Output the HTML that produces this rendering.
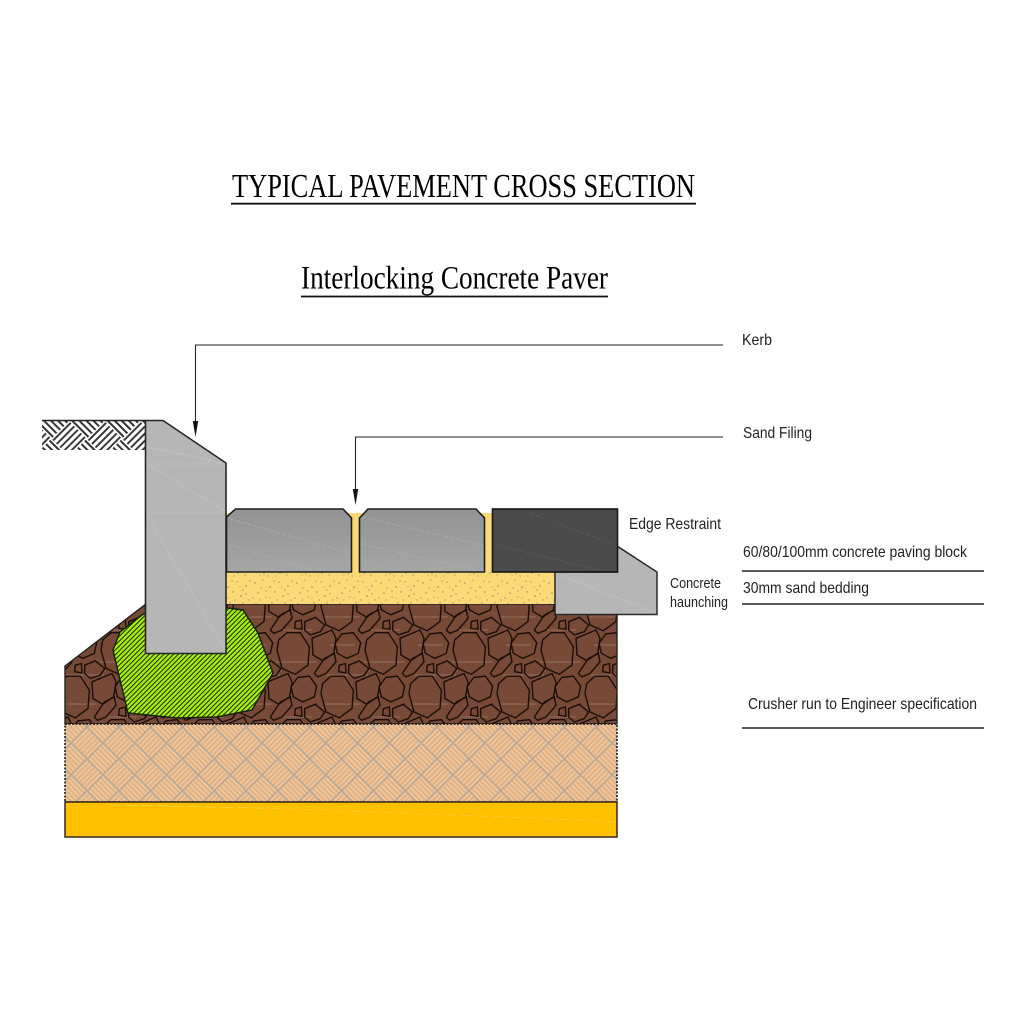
<!DOCTYPE html>
<html><head><meta charset="utf-8"><title>Typical Pavement Cross Section</title>
<style>html,body{margin:0;padding:0;background:#fff}svg{display:block;filter:blur(.35px)}
.s{font-family:"Liberation Serif",serif;fill:#000}.l{font-family:"Liberation Sans",sans-serif;font-size:16px;fill:#222}</style></head>
<body>
<svg width="1024" height="1024" viewBox="0 0 1024 1024" xmlns="http://www.w3.org/2000/svg">
<defs>
<linearGradient id="pv" x1="0" y1="0" x2="0" y2="1"><stop offset="0" stop-color="#939393"/><stop offset="1" stop-color="#a6a6a6"/></linearGradient>
<g id="st" fill="none" stroke="#1a0e08" stroke-width="4.200">
<polygon points="165,428 205,428 232,470 228,525 190,553 150,535 135,480 140,450"/>
<polygon points="65,432 100,428 122,458 115,490 80,505 52,490 45,460"/>
<polygon points="240,445 300,420 312,445 305,490 272,512 243,495"/>
<polygon points="115,420 145,375 175,360 180,385 150,420 125,430"/>
<polygon points="190,395 208,390 210,418 188,415"/>
<polygon points="218,395 250,382 278,405 265,425 235,435 218,420"/>
</g>
<pattern id="stones" patternUnits="userSpaceOnUse" x="320" y="605" width="88" height="87">
<rect width="88" height="87" fill="#774a37"/>
<g stroke="#a58371" stroke-width="1" opacity=".6">
<path d="M4 12H40M50 25H80M10 40H34M44 57H84M6 70H48"/>
</g>
<g transform="scale(.33333) translate(0,-345)">
<use href="#st"/><use href="#st" x="-264"/>
<use href="#st" x="132" y="130.5"/><use href="#st" x="-132" y="130.5"/>
<use href="#st" x="-132" y="-130.5"/><use href="#st" x="132" y="-130.5"/>
</g>
</pattern>
<pattern id="green" patternUnits="userSpaceOnUse" width="3.4" height="3.4" patternTransform="rotate(-45)">
<rect width="3.4" height="3.4" fill="#aaf00e"/><rect width="3.4" height="1.050" fill="#1a2a0a"/>
</pattern>
<pattern id="weave" patternUnits="userSpaceOnUse" width="45" height="45" patternTransform="translate(103,743) rotate(45)">
<rect width="45" height="45" fill="#eec498"/>
<g stroke="#dcae84" stroke-width="1.6">
<path d="M1 3.750H22M1 7.500H22M1 11.250H22M1 15H22M1 18.750H22M23.500 26.250H44M23.500 30H44M23.500 33.750H44M23.500 37.500H44M23.500 41.250H44"/>
<path d="M26.250 1V22M30 1V22M33.750 1V22M37.500 1V22M41.250 1V22M3.750 23.500V44M7.500 23.500V44M11.250 23.500V44M15 23.500V44M18.750 23.500V44"/>
</g>
<g stroke="#b8a794" stroke-width="1.700" fill="none"><path d="M0 0V45M22.500 0V45M45 0V45M0 0H45M0 22.500H45M0 45H45"/></g>
</pattern>
<pattern id="ground" patternUnits="userSpaceOnUse" width="50" height="50" patternTransform="translate(86.700,438.700) rotate(45)">
<rect width="50" height="50" fill="#fff"/>
<g stroke="#333" stroke-width="1.900">
<path d="M0 2.500H25M0 7.500H25M0 12.500H25M0 17.500H25M0 22.500H25M25 27.500H50M25 32.500H50M25 37.500H50M25 42.500H50M25 47.500H50"/>
<path d="M27.500 0V25M32.500 0V25M37.500 0V25M42.500 0V25M47.500 0V25M2.500 25V50M7.500 25V50M12.500 25V50M17.500 25V50M22.500 25V50"/>
</g>
</pattern>
<pattern id="sand" patternUnits="userSpaceOnUse" width="42" height="34">
<rect width="42" height="34" fill="#fbd976"/>
<g fill="#8a8474">
<circle cx="3" cy="5" r=".7"/><circle cx="11" cy="2" r=".6"/><circle cx="18" cy="9" r=".8"/><circle cx="27" cy="4" r=".6"/><circle cx="36" cy="8" r=".7"/>
<circle cx="6" cy="15" r=".7"/><circle cx="14" cy="19" r=".6"/><circle cx="23" cy="14" r=".7"/><circle cx="31" cy="18" r=".8"/><circle cx="39" cy="22" r=".6"/>
<circle cx="4" cy="26" r=".8"/><circle cx="12" cy="30" r=".6"/><circle cx="20" cy="25" r=".7"/><circle cx="28" cy="29" r=".7"/><circle cx="35" cy="31" r=".6"/>
<circle cx="9" cy="10" r=".6"/><circle cx="25" cy="22" r=".6"/><circle cx="33" cy="12" r=".6"/><circle cx="16" cy="32" r=".6"/><circle cx="1" cy="20" r=".6"/>
<circle cx="14" cy="13" r=".6"/><circle cx="22" cy="3" r=".6"/><circle cx="40" cy="3" r=".6"/><circle cx="30" cy="9" r=".5"/><circle cx="8" cy="22" r=".6"/>
<circle cx="18" cy="20" r=".5"/><circle cx="36" cy="16" r=".6"/><circle cx="33" cy="25" r=".6"/><circle cx="24" cy="32" r=".5"/><circle cx="8" cy="31" r=".5"/>
</g>
</pattern>
</defs>

<text class="s" x="232" y="197" font-size="34" textLength="463" lengthAdjust="spacingAndGlyphs">TYPICAL PAVEMENT CROSS SECTION</text>
<line x1="231" y1="203.700" x2="696" y2="203.700" stroke="#111" stroke-width="1.800"/>
<text class="s" x="301" y="288.500" font-size="33" textLength="307" lengthAdjust="spacingAndGlyphs">Interlocking Concrete Paver</text>
<line x1="301" y1="296.500" x2="608" y2="296.500" stroke="#111" stroke-width="1.800"/>

<!-- ground -->
<rect x="42" y="420" width="104" height="30" fill="url(#ground)"/>
<line x1="42" y1="420.500" x2="146" y2="420.500" stroke="#222" stroke-width="1.500"/>

<!-- crushed stone -->
<polygon points="65,666 146,604 617,604 617,724 65,724" fill="url(#stones)" stroke="#222" stroke-width="1.400"/>
<!-- tan -->
<rect x="65" y="724" width="552" height="78" fill="url(#weave)"/>
<rect x="65" y="724" width="552" height="78" fill="none" stroke="#111" stroke-width="1.500" stroke-dasharray="2 1.500"/>
<!-- yellow -->
<rect x="65" y="802" width="552" height="35" fill="#ffc000" stroke="#33291a" stroke-width="1.500"/>
<path d="M110 805 Q320 808 617 822" stroke="#ffcb33" stroke-width="1" stroke-dasharray="10 6" fill="none"/>

<!-- green blob -->
<polygon points="146,613 142,615 120,632 113,650 120,680 128,713 177,718 217,717 252,710 273,673 258,633 243,610 227,608" fill="url(#green)" stroke="#16210a" stroke-width="1.500"/>

<!-- sand -->
<rect x="226" y="513" width="266" height="60" fill="#fbd976"/>
<rect x="226" y="572" width="329" height="32" fill="url(#sand)"/>

<!-- haunching -->
<polygon points="617,546 657,572 657,614.500 555,614.500 555,572 617,572" fill="#b6b6b6" stroke="#2a2a2a" stroke-width="1.500"/>
<line x1="560" y1="575" x2="654" y2="612" stroke="#c2c2c2" stroke-width=".7"/>

<!-- kerb -->
<polygon points="145.500,420.500 163,420.500 226,463 226,653.500 145.500,653.500" fill="#b6b6b6" stroke="#262626" stroke-width="1.600"/>
<g stroke="#c2c2c2" stroke-width=".7" fill="none">
<path d="M147 447L222 463M147 464H225M147 464L225 511M147 513H225M147 515L225 650"/>
</g>

<!-- pavers -->
<polygon points="226.500,517 235.500,509 343,509 351.500,518 351.500,572 226.500,572" fill="url(#pv)" stroke="#1e1e1e" stroke-width="1.600"/>
<polygon points="359.500,518 368,509 476,509 484.500,518 484.500,572 359.500,572" fill="url(#pv)" stroke="#1e1e1e" stroke-width="1.600"/>
<g stroke="#b2b2b2" stroke-width=".6" fill="none" stroke-dasharray="4 2">
<path d="M230 519L350 553M230 545L312 570M362 517L483 545M362 544L475 570"/>
</g>
<rect x="492.500" y="509" width="125" height="63" fill="#4a4a4a" stroke="#161616" stroke-width="1.600"/>
<path d="M496 545L600 570M530 513L612 544" stroke="#5e5e5e" stroke-width=".6" stroke-dasharray="4 2" fill="none"/>

<!-- leaders -->
<g fill="none" stroke="#222" stroke-width="1.100">
<path d="M723 345H195.500V425"/>
<path d="M723 437H355.500V494"/>
</g>
<polygon points="192.800,421 198.200,421 195.500,437" fill="#111"/>
<polygon points="352.800,489 358.200,489 355.500,505" fill="#111"/>

<!-- labels -->
<text class="l" x="742" y="345" textLength="30" lengthAdjust="spacingAndGlyphs">Kerb</text>
<text class="l" x="743" y="438" textLength="69" lengthAdjust="spacingAndGlyphs">Sand Filing</text>
<text class="l" x="629" y="529" textLength="92" lengthAdjust="spacingAndGlyphs">Edge Restraint</text>
<text class="l" x="743" y="557" textLength="224" lengthAdjust="spacingAndGlyphs">60/80/100mm concrete paving block</text>
<text class="l" x="743" y="593" textLength="126" lengthAdjust="spacingAndGlyphs">30mm sand bedding</text>
<text class="l" x="748" y="709" textLength="229" lengthAdjust="spacingAndGlyphs">Crusher run to Engineer specification</text>
<text class="l" x="670" y="588" style="font-size:15px" textLength="51" lengthAdjust="spacingAndGlyphs">Concrete</text>
<text class="l" x="670" y="607" style="font-size:15px" textLength="58" lengthAdjust="spacingAndGlyphs">haunching</text>
<g stroke="#222" stroke-width="1.400">
<line x1="742" y1="571" x2="984" y2="571"/>
<line x1="742" y1="604" x2="984" y2="604"/>
<line x1="742" y1="728" x2="984" y2="728"/>
</g>
</svg>
</body></html>
